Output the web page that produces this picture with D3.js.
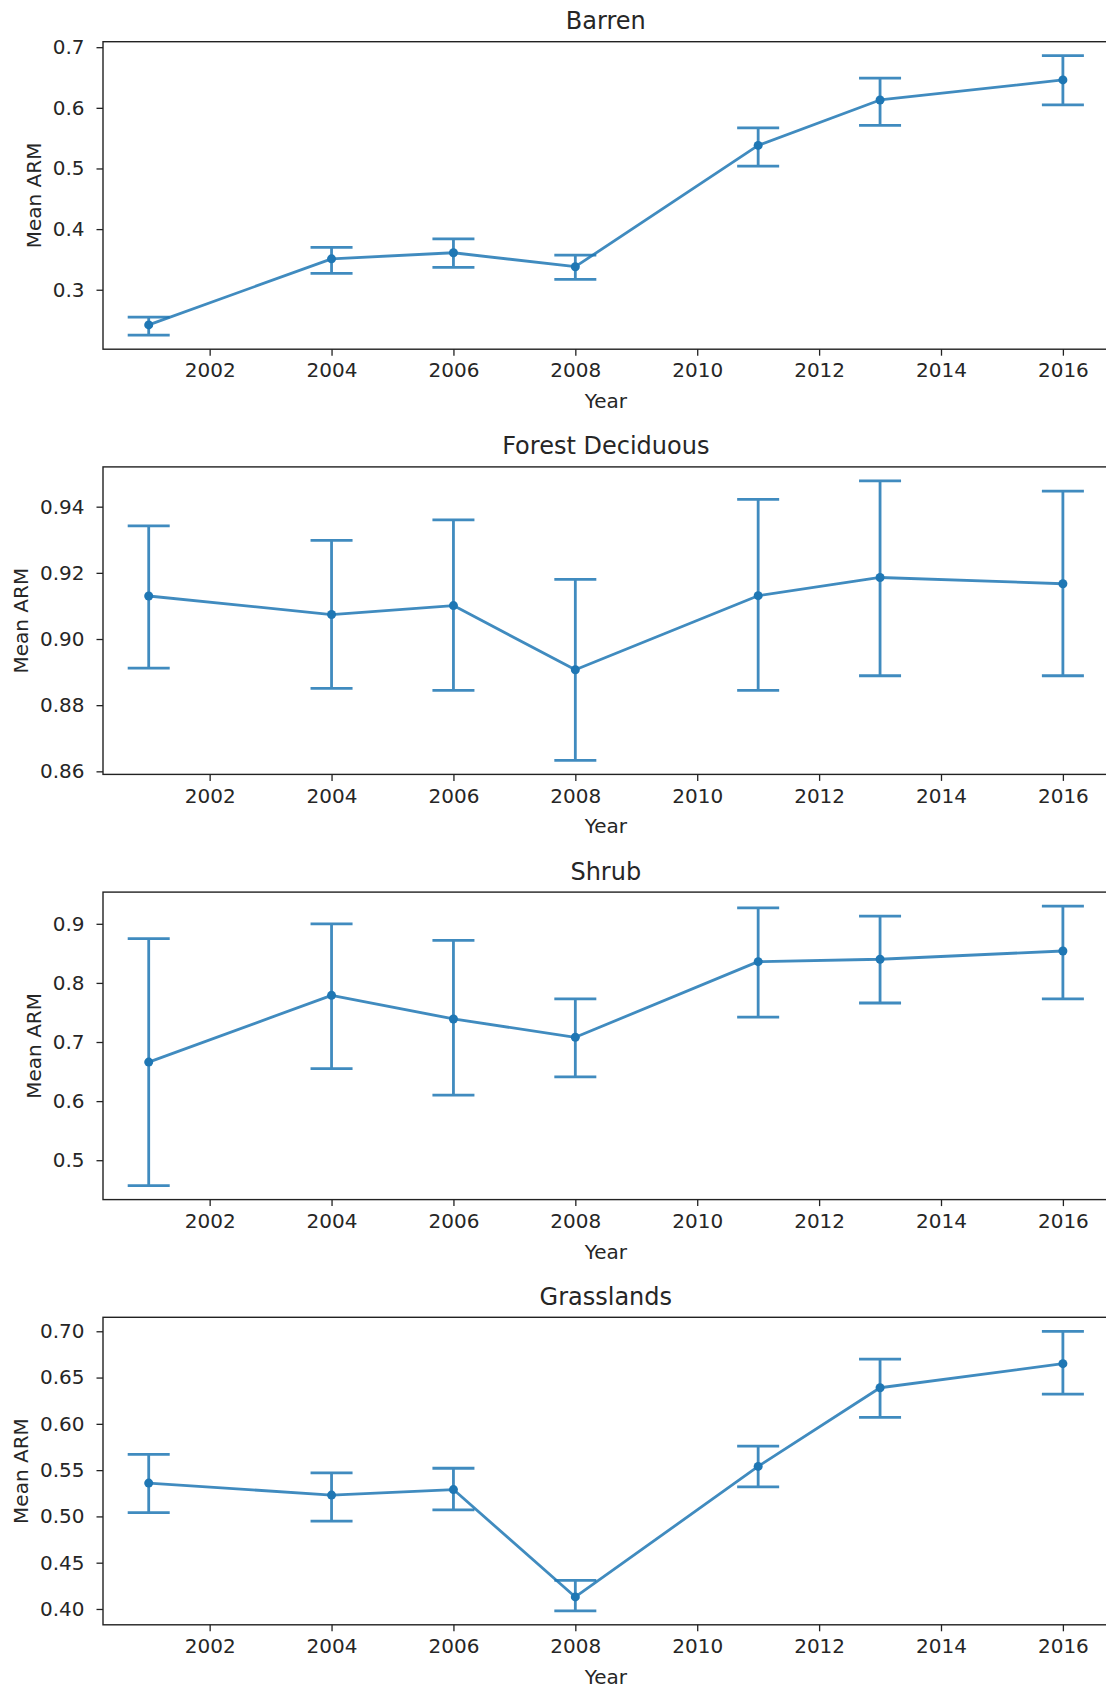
<!DOCTYPE html>
<html>
<head>
<meta charset="utf-8">
<script src="https://cdn.jsdelivr.net/npm/d3@7"></script>
<style>
  body { margin: 0; background: #fff; }
  svg { display: block; }
  text { font-family: "DejaVu Sans", sans-serif; fill: #262626; }
</style>
</head>
<body>
<div id="chart"></div>
<script>
// Survey years and x-axis ticks
const years = [2001, 2004, 2006, 2008, 2011, 2013, 2016];
const xTicks = [2002, 2004, 2006, 2008, 2010, 2012, 2014, 2016];

// Mean ARM per land-cover class, with lower / upper error bounds
const barrenMean = [0.242, 0.351, 0.361, 0.338, 0.538, 0.613, 0.646];
const barrenLow  = [0.225, 0.327, 0.337, 0.317, 0.504, 0.571, 0.605];
const barrenHigh = [0.255, 0.370, 0.384, 0.357, 0.567, 0.649, 0.686];

const forestMean = [0.9130, 0.9074, 0.9101, 0.8907, 0.9131, 0.9186, 0.9167];
const forestLow  = [0.8912, 0.8851, 0.8845, 0.8633, 0.8845, 0.8889, 0.8889];
const forestHigh = [0.9342, 0.9298, 0.9360, 0.9180, 0.9422, 0.9478, 0.9447];

const shrubMean = [0.666, 0.779, 0.739, 0.708, 0.836, 0.840, 0.854];
const shrubLow  = [0.457, 0.655, 0.610, 0.641, 0.742, 0.766, 0.773];
const shrubHigh = [0.875, 0.900, 0.872, 0.773, 0.927, 0.913, 0.930];

const grassMean = [0.536, 0.523, 0.529, 0.413, 0.554, 0.639, 0.665];
const grassLow  = [0.504, 0.495, 0.507, 0.398, 0.532, 0.607, 0.632];
const grassHigh = [0.567, 0.547, 0.552, 0.431, 0.576, 0.670, 0.700];

// y-axis tick values per panel
const barrenTicks = [0.3, 0.4, 0.5, 0.6, 0.7];
const forestTicks = [0.86, 0.88, 0.90, 0.92, 0.94];
const shrubTicks  = [0.5, 0.6, 0.7, 0.8, 0.9];
const grassTicks  = [0.40, 0.45, 0.50, 0.55, 0.60, 0.65, 0.70];

const titles = ["Barren", "Forest Deciduous", "Shrub", "Grasslands"];

const panels = [
  { title: titles[0], mean: barrenMean, low: barrenLow, high: barrenHigh, ticks: barrenTicks, fmt: d3.format(".1f") },
  { title: titles[1], mean: forestMean, low: forestLow, high: forestHigh, ticks: forestTicks, fmt: d3.format(".2f") },
  { title: titles[2], mean: shrubMean,  low: shrubLow,  high: shrubHigh,  ticks: shrubTicks,  fmt: d3.format(".1f") },
  { title: titles[3], mean: grassMean,  low: grassLow,  high: grassHigh,  ticks: grassTicks,  fmt: d3.format(".2f") }
];

const W = 1106, H = 1689;
const color = "#1f77b4";
const axLeft = 103, axRight = 1108.6;
const firstTop = 41.7, panelStep = 425.2, panelH = 307.5;
const capHalf = 21;

const svg = d3.select("#chart").append("svg")
  .attr("width", W).attr("height", H)
  .attr("viewBox", `0 0 ${W} ${H}`);

// x domain padded by 5% of the data span on each side
const xSpan = d3.max(years) - d3.min(years);
const x = d3.scaleLinear()
  .domain([d3.min(years) - 0.05 * xSpan, d3.max(years) + 0.05 * xSpan])
  .range([axLeft, axRight]);

panels.forEach((p, i) => {
  const top = firstTop + i * panelStep;
  const bottom = top + panelH;
  const lo = d3.min(p.low), hi = d3.max(p.high);
  const pad = 0.05 * (hi - lo);
  const y = d3.scaleLinear().domain([lo - pad, hi + pad]).range([bottom, top]);

  const g = svg.append("g");

  // x axis
  const xAxis = g.append("g")
    .attr("transform", `translate(0,${bottom})`)
    .call(d3.axisBottom(x).tickValues(xTicks).tickFormat(d3.format("d")).tickSize(6.5).tickPadding(7.5));
  xAxis.select(".domain").remove();
  xAxis.selectAll(".tick line").attr("stroke", "#222").attr("stroke-width", 1.3);
  xAxis.selectAll(".tick text").attr("font-size", 20).attr("fill", "#262626")
    .attr("font-family", "DejaVu Sans, sans-serif");

  // y axis
  const yAxis = g.append("g")
    .attr("transform", `translate(${axLeft},0)`)
    .call(d3.axisLeft(y).tickValues(p.ticks).tickFormat(p.fmt).tickSize(6.5).tickPadding(12));
  yAxis.select(".domain").remove();
  yAxis.selectAll(".tick line").attr("stroke", "#222").attr("stroke-width", 1.3);
  yAxis.selectAll(".tick text").attr("font-size", 20).attr("fill", "#262626")
    .attr("font-family", "DejaVu Sans, sans-serif");

  // axes frame
  g.append("rect")
    .attr("x", axLeft).attr("y", top)
    .attr("width", axRight - axLeft).attr("height", bottom - top)
    .attr("fill", "none").attr("stroke", "#222").attr("stroke-width", 1.4);

  // error bars
  const eb = g.append("g").attr("stroke", color).attr("stroke-width", 2.8).attr("opacity", 0.85);
  years.forEach((yr, k) => {
    const cx = x(yr);
    eb.append("line").attr("x1", cx).attr("x2", cx).attr("y1", y(p.low[k])).attr("y2", y(p.high[k]));
    eb.append("line").attr("x1", cx - capHalf).attr("x2", cx + capHalf).attr("y1", y(p.low[k])).attr("y2", y(p.low[k]));
    eb.append("line").attr("x1", cx - capHalf).attr("x2", cx + capHalf).attr("y1", y(p.high[k])).attr("y2", y(p.high[k]));
  });

  // mean line
  const line = d3.line().x((d, k) => x(years[k])).y(d => y(d));
  g.append("path").datum(p.mean)
    .attr("d", line).attr("fill", "none")
    .attr("stroke", color).attr("stroke-width", 2.8).attr("opacity", 0.85)
    .attr("stroke-linejoin", "round");

  // markers
  g.selectAll("circle.pt").data(p.mean).join("circle")
    .attr("class", "pt")
    .attr("cx", (d, k) => x(years[k])).attr("cy", d => y(d))
    .attr("r", 4.5).attr("fill", color);

  // title
  g.append("text")
    .attr("x", (axLeft + axRight) / 2).attr("y", top - 12.5)
    .attr("text-anchor", "middle").attr("font-size", 24)
    .text(p.title);

  // x label
  g.append("text")
    .attr("x", (axLeft + axRight) / 2).attr("y", bottom + 59)
    .attr("text-anchor", "middle").attr("font-size", 20)
    .text("Year");

  // y label, placed left of the widest tick label
  let minX = Infinity;
  yAxis.selectAll(".tick text").each(function () {
    const b = this.getBBox();
    const m = this.getCTM();
    minX = Math.min(minX, b.x + m.e);
  });
  const ly = (top + bottom) / 2;
  const lx = minX - 12;
  g.append("text")
    .attr("transform", `translate(${lx},${ly}) rotate(-90)`)
    .attr("text-anchor", "middle").attr("font-size", 20)
    .text("Mean ARM");
});
</script>
</body>
</html>
